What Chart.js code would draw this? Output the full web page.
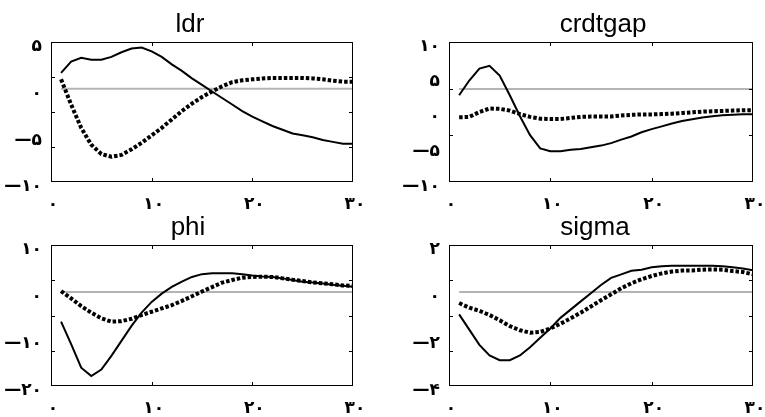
<!DOCTYPE html>
<html>
<head>
<meta charset="utf-8">
<script src="https://cdn.jsdelivr.net/npm/chart.js@4/dist/chart.umd.min.js"></script>
<style>
  body { margin: 0; background: #fff; }
  #wrap { position: relative; width: 765px; height: 417px; overflow: hidden; }
  canvas { position: absolute; }
</style>
</head>
<body>
<div id="wrap">
  <canvas id="c_ldr" width="380" height="212" style="left:0;top:0"></canvas>
  <canvas id="c_crdtgap" width="446" height="212" style="left:380px;top:0"></canvas>
  <canvas id="c_phi" width="376" height="214" style="left:0;top:203px"></canvas>
  <canvas id="c_sigma" width="430" height="214" style="left:380px;top:203px"></canvas>
</div>
<script>
// horizons 1..30
const steps = [1, 2, 3, 4, 5, 6, 7, 8, 9, 10, 11, 12, 13, 14, 15, 16, 17, 18, 19, 20, 21, 22, 23, 24, 25, 26, 27, 28, 29, 30];
const xTicks = [0, 10, 20, 30];

// ldr
const ldrSolid = [1.7, 2.9, 3.3, 3.1, 3.1, 3.4, 3.9, 4.3, 4.4, 4.0, 3.4, 2.6, 1.9, 1.1, 0.4, -0.3, -1.0, -1.7, -2.4, -3.0, -3.5, -4.0, -4.4, -4.8, -5.0, -5.2, -5.5, -5.7, -5.9, -5.9];
const ldrDotted = [1.0, -1.7, -4.2, -6.0, -7.0, -7.3, -7.1, -6.5, -5.8, -5.0, -4.2, -3.3, -2.4, -1.6, -0.9, -0.3, 0.25, 0.7, 0.9, 1.0, 1.1, 1.15, 1.15, 1.15, 1.15, 1.1, 1.0, 0.85, 0.75, 0.75];
const ldrBase = 0;

// crdtgap
const crdtgapSolid = [2.4, 4.5, 6.2, 6.6, 5.2, 2.4, -0.6, -3.3, -5.2, -5.6, -5.6, -5.4, -5.3, -5.05, -4.8, -4.45, -3.95, -3.5, -2.9, -2.45, -2.05, -1.65, -1.3, -1.05, -0.8, -0.6, -0.45, -0.38, -0.33, -0.33];
const crdtgapDotted = [-0.75, -0.7, 0.0, 0.5, 0.45, 0.2, -0.3, -0.7, -0.95, -1.0, -1.0, -0.85, -0.7, -0.65, -0.65, -0.65, -0.5, -0.4, -0.35, -0.35, -0.3, -0.25, -0.15, -0.05, 0.05, 0.1, 0.15, 0.2, 0.25, 0.25];
const crdtgapBase = 3.3;

// phi
const phiSolid = [-6.3, -11.1, -16.1, -17.9, -16.5, -13.6, -10.4, -7.2, -4.4, -2.1, -0.35, 1.1, 2.2, 3.2, 3.8, 4.0, 4.0, 4.0, 3.8, 3.5, 3.3, 3.2, 2.9, 2.55, 2.2, 2.0, 1.8, 1.55, 1.35, 1.1];
const phiDotted = [0.2, -1.35, -3.0, -4.4, -5.6, -6.3, -6.2, -5.7, -4.9, -4.2, -3.5, -2.8, -1.9, -0.9, 0.1, 1.05, 2.0, 2.55, 3.05, 3.2, 3.25, 3.2, 2.9, 2.6, 2.35, 2.05, 1.85, 1.65, 1.4, 1.3];
const phiBase = 0;

// sigma
const sigmaSolid = [-0.95, -1.6, -2.25, -2.7, -2.9, -2.9, -2.7, -2.35, -1.95, -1.55, -1.1, -0.75, -0.4, -0.05, 0.3, 0.6, 0.75, 0.9, 0.95, 1.05, 1.1, 1.12, 1.12, 1.12, 1.12, 1.12, 1.1, 1.05, 1.0, 0.92];
const sigmaDotted = [-0.47, -0.67, -0.8, -0.98, -1.2, -1.45, -1.63, -1.73, -1.7, -1.55, -1.35, -1.12, -0.88, -0.62, -0.35, -0.1, 0.16, 0.37, 0.54, 0.68, 0.79, 0.87, 0.91, 0.92, 0.95, 0.96, 0.95, 0.89, 0.85, 0.75];
const sigmaBase = 0;

// persian digits for the tick labels
const faDigits = '۰۱۲۳۴۵۶۷۸۹';
function fa(v) {
  const s = String(Math.abs(v)).replace(/\d/g, d => faDigits[d]);
  return v < 0 ? '\u2014' + s : s;
}

// box round the axes + inward tick marks (matlab style)
const frame = {
  id: 'frame',
  afterDatasetsDraw(chart, args, opts) {
    const { ctx, chartArea: a, scales: { x, y } } = chart;
    const len = 4;
    ctx.save();
    ctx.strokeStyle = '#000';
    ctx.lineWidth = 1;
    ctx.strokeRect(a.left + 0.5, a.top + 0.5, a.width - 1, a.height - 1);
    ctx.beginPath();
    x.ticks.forEach(t => {
      if (t.value <= x.min || t.value >= x.max) return;
      const px = Math.round(x.getPixelForValue(t.value)) + 0.5;
      ctx.moveTo(px, a.top); ctx.lineTo(px, a.top + len);
      ctx.moveTo(px, a.bottom); ctx.lineTo(px, a.bottom - len);
    });
    for (let i = 1; i < opts.divs; i++) {
      const v = y.max - (y.max - y.min) * i / opts.divs;
      const py = Math.round(y.getPixelForValue(v)) + 0.5;
      ctx.moveTo(a.left, py); ctx.lineTo(a.left + len, py);
      ctx.moveTo(a.right, py); ctx.lineTo(a.right - len, py);
    }
    ctx.stroke();
    ctx.restore();
  }
};

const pts = arr => steps.map((s, i) => ({ x: s, y: arr[i] }));
const tickFont = { family: 'DejaVu Sans', size: 17, weight: 'bold' };

// axisW = room for the y labels, spacerW = empty right box so the title sits where it should
function panel(id, title, solid, dotted, base, yMin, yMax, yStep, divs, axisW, spacerW, axisH) {
  new Chart(document.getElementById(id), {
    type: 'line',
    data: {
      datasets: [
        { data: pts(solid), borderColor: '#000', borderWidth: 2, pointRadius: 0, tension: 0, order: 1 },
        { data: pts(dotted), borderColor: '#000', borderWidth: 4, borderDash: [3.5, 2], borderCapStyle: 'butt', pointRadius: 0, tension: 0, order: 2 },
        { data: [{ x: steps[0], y: base }, { x: steps[steps.length - 1], y: base }], borderColor: '#b4b4b4', borderWidth: 2, pointRadius: 0, order: 3 }
      ]
    },
    options: {
      responsive: false,
      animation: false,
      events: [],
      layout: { padding: 0 },
      plugins: {
        legend: { display: false },
        tooltip: { enabled: false },
        title: {
          display: true, text: title, color: '#000',
          font: { family: 'Liberation Sans', size: 26, weight: 'normal', lineHeight: 1 },
          padding: { top: 12, bottom: 4 }
        },
        frame: { divs: divs }
      },
      scales: {
        x: {
          type: 'linear', min: 0, max: 30,
          afterBuildTicks: s => { s.ticks = xTicks.map(v => ({ value: v })); },
          afterFit: s => { s.height = axisH; },
          grid: { display: false, drawTicks: false },
          border: { display: false },
          ticks: { callback: v => fa(v), color: '#000', font: tickFont, padding: 12, labelOffset: 2, maxRotation: 0, autoSkip: false }
        },
        y: {
          min: yMin, max: yMax,
          afterFit: s => { s.width = axisW; },
          grid: { display: false, drawTicks: false },
          border: { display: false },
          ticks: { stepSize: yStep, callback: v => fa(v), color: '#000', font: tickFont, padding: 9, labelOffset: 5 }
        },
        spacer: {
          type: 'linear', position: 'right', min: 0, max: 1,
          afterFit: s => { s.width = spacerW; },
          grid: { display: false, drawTicks: false },
          border: { display: false },
          ticks: { display: false }
        }
      }
    },
    plugins: [frame]
  });
}

panel('c_ldr', 'ldr', ldrSolid, ldrDotted, ldrBase, -10, 5, 5, 4, 51, 27, 30);
panel('c_crdtgap', 'crdtgap', crdtgapSolid, crdtgapDotted, crdtgapBase, -10, 10, 5, 3, 69, 73, 30);
panel('c_phi', 'phi', phiSolid, phiDotted, phiBase, -20, 10, 10, 4, 51, 23, 31);
panel('c_sigma', 'sigma', sigmaSolid, sigmaDotted, sigmaBase, -4, 2, 2, 4, 69, 57, 31);
</script>
</body>
</html>
